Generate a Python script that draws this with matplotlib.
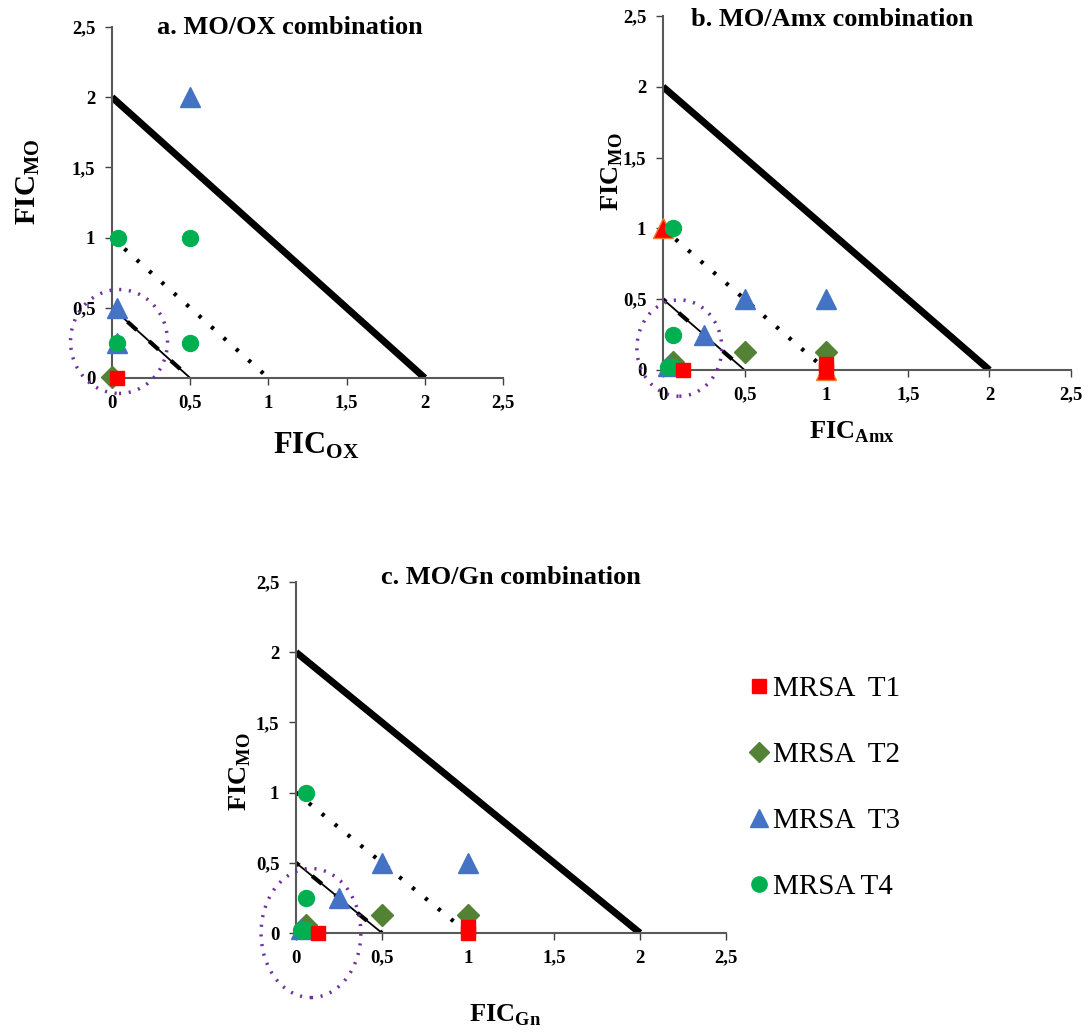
import matplotlib.pyplot as plt
from matplotlib.lines import Line2D
from matplotlib.patches import Ellipse

plt.rcParams['font.family'] = ['Liberation Serif', 'DejaVu Serif']
plt.rcParams['mathtext.fontset'] = 'custom'
plt.rcParams['mathtext.rm'] = 'Liberation Serif'
plt.rcParams['mathtext.bf'] = 'Liberation Serif:bold'

# ---- data: (FIC of partner drug, FIC of MO) for each strain ----
tick_values = [0, 0.5, 1, 1.5, 2, 2.5]
tick_labels = ['0', '0,5', '1', '1,5', '2', '2,5']
series_names = ['MRSA  T1', 'MRSA  T2', 'MRSA  T3', 'MRSA T4']

a_t1_x = [0.03]
a_t1_y = [0.0]
a_t2_x = [0.0]
a_t2_y = [0.01]
a_t3_x = [0.03, 0.03, 0.5]
a_t3_y = [0.5, 0.25, 2.0]
a_t4_x = [0.04, 0.5, 0.03, 0.5]
a_t4_y = [1.0, 1.0, 0.25, 0.25]

b_t1_x = [0.125, 1.0, 1.0]
b_t1_y = [0.0, 0.0, 0.04]
b_t2_x = [0.06, 0.5, 1.0]
b_t2_y = [0.06, 0.125, 0.125]
b_t3_x = [0.03, 0.25, 0.5, 1.0]
b_t3_y = [0.03, 0.25, 0.5, 0.5]
b_t4_x = [0.06, 0.06, 0.03, 0.06]
b_t4_y = [1.0, 0.25, 0.02, 0.02]
b_extra_x = [0.0, 1.0]
b_extra_y = [1.0, 0.0]

c_t1_x = [0.125, 1.0, 1.0]
c_t1_y = [0.0, 0.0, 0.04]
c_t2_x = [0.06, 0.5, 1.0]
c_t2_y = [0.06, 0.125, 0.125]
c_t3_x = [0.03, 0.25, 0.5, 1.0]
c_t3_y = [0.03, 0.25, 0.5, 0.5]
c_t4_x = [0.06, 0.06, 0.03, 0.06]
c_t4_y = [1.0, 0.25, 0.02, 0.02]

# styles
COL_T1, COL_T2, COL_T3, COL_T4 = '#FF0000', '#548235', '#4472C4', '#00B050'
W, H = 1088, 1032

fig = plt.figure(figsize=(10.88, 10.32), dpi=100)


def px_axes(x0, x1, ytop, ybot):
    return fig.add_axes([x0 / W, 1 - ybot / H, (x1 - x0) / W, (ybot - ytop) / H])


def setup(ax, spine_col='#595959'):
    ax.set_xlim(0, 2.5)
    ax.set_ylim(0, 2.5)
    ax.set_xticks(tick_values)
    ax.set_yticks(tick_values)
    ax.set_xticklabels(tick_labels, fontsize=13.5, fontweight='bold')
    ax.set_yticklabels(tick_labels, fontsize=13.5, fontweight='bold')
    ax.tick_params(direction='out', length=5, width=1, color='#404040', pad=7)
    for s in ['top', 'right']:
        ax.spines[s].set_visible(False)
    for s in ['left', 'bottom']:
        ax.spines[s].set_color(spine_col)
        ax.spines[s].set_linewidth(1.5)
    # isobologram lines
    ax.plot([0, 2], [2, 0], color='black', lw=5, solid_capstyle='butt', zorder=2)
    ax.plot([0, 1], [1, 0], color='black', lw=3, linestyle=(0, (0.8, 3.2)), zorder=2)
    ax.plot([0, 0.5], [0.5, 0], color='black', lw=1.3, zorder=2)
    ax.plot([0, 0.5], [0.5, 0], color='black', lw=3, linestyle=(2, (3, 4)), zorder=2)


def points(ax, t1, t2, t3, t4):
    kw = dict(linestyle='none', clip_on=False, zorder=5)
    ax.plot(*t2, marker='D', ms=11, color=COL_T2, **kw)
    ax.plot(*t3, marker='^', ms=15, color=COL_T3, **kw)
    ax.plot(*t4, marker='o', ms=11.5, color=COL_T4, **kw)
    ax.plot(*t1, marker='s', ms=10.5, color=COL_T1, **kw)


def ring(ax, cx, cy, w, h):
    ax.add_patch(Ellipse((cx, cy), w, h, fill=False, edgecolor='#7030A0', lw=2.5,
                         linestyle=(0, (0.6, 2.2)), clip_on=False, zorder=6))


def fig_label(x, y, text, size, rot=0, weight='normal'):
    fig.text(x / W, 1 - y / H, text, fontsize=size, rotation=rot, ha='center',
             va='center', fontweight=weight)


# ---- panel a ----
ax_a = px_axes(112, 503, 27, 378)
setup(ax_a)
points(ax_a, (a_t1_x, a_t1_y), (a_t2_x, a_t2_y), (a_t3_x, a_t3_y), (a_t4_x, a_t4_y))
ring(ax_a, 0.045, 0.26, 0.62, 0.74)
fig_label(290, 28, 'a. MO/OX combination', 19, weight='bold')
fig_label(316, 446, r'$\mathbf{FIC}_{\mathbf{OX}}$', 22)
fig_label(28, 182, r'$\mathbf{FIC}_{\mathbf{MO}}$', 21, rot=90)

# ---- panel b ----
ax_b = px_axes(663, 1071, 16, 370)
setup(ax_b)
ax_b.plot(b_extra_x, b_extra_y, marker='^', ms=15, color='#FF0000', mec='#ED7D31',
          linestyle='none', clip_on=False, zorder=4)
points(ax_b, (b_t1_x, b_t1_y), (b_t2_x, b_t2_y), (b_t3_x, b_t3_y), (b_t4_x, b_t4_y))
ring(ax_b, 0.10, 0.155, 0.52, 0.68)
fig_label(832, 19, 'b. MO/Amx combination', 19, weight='bold')
fig_label(852, 432, r'$\mathbf{FIC}_{\mathbf{Amx}}$', 19)
fig_label(612, 172, r'$\mathbf{FIC}_{\mathbf{MO}}$', 19, rot=90)

# ---- panel c ----
ax_c = px_axes(296, 726, 582, 933)
setup(ax_c)
points(ax_c, (c_t1_x, c_t1_y), (c_t2_x, c_t2_y), (c_t3_x, c_t3_y), (c_t4_x, c_t4_y))
ring(ax_c, 0.087, 0.0, 0.58, 0.92)
fig_label(511, 578, 'c. MO/Gn combination', 19, weight='bold')
fig_label(505, 1015, r'$\mathbf{FIC}_{\mathbf{Gn}}$', 19)
fig_label(240, 772, r'$\mathbf{FIC}_{\mathbf{MO}}$', 19, rot=90)

# ---- legend ----
handles = [
    Line2D([], [], marker='s', ms=10, color=COL_T1, linestyle='none'),
    Line2D([], [], marker='D', ms=10, color=COL_T2, linestyle='none'),
    Line2D([], [], marker='^', ms=13, color=COL_T3, linestyle='none'),
    Line2D([], [], marker='o', ms=11, color=COL_T4, linestyle='none'),
]
fig.legend(handles, series_names, loc='upper left', bbox_to_anchor=(750 / W, 1 - 676 / H),
           frameon=False, fontsize=21, labelspacing=1.35, handlelength=0.6,
           handletextpad=0.2, borderaxespad=0, borderpad=0)

fig.savefig('out.png', dpi=100, facecolor='white')
